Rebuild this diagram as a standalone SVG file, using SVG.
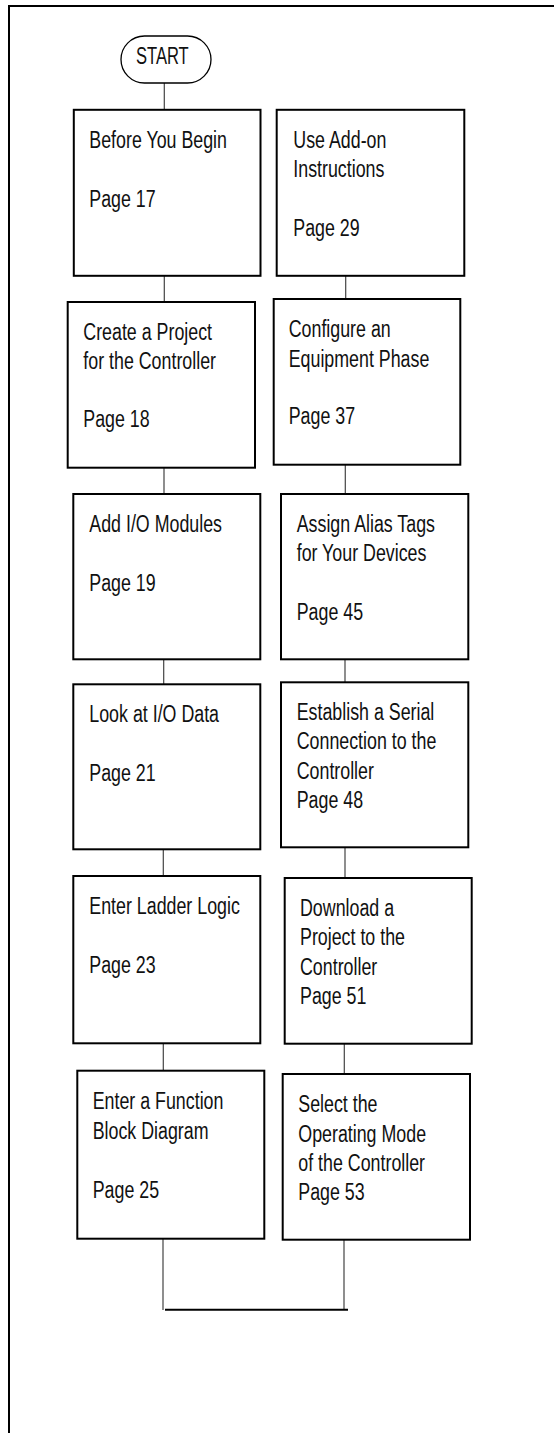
<svg xmlns="http://www.w3.org/2000/svg" width="554" height="1433" viewBox="0 0 554 1433">
  <style>
    .frame { fill: none; stroke: #000; stroke-width: 2; }
    .box { fill: #fff; stroke: #000; stroke-width: 2; }
    .pill { fill: #fff; stroke: #000; stroke-width: 1.3; }
    .link { fill: none; stroke: #444; stroke-width: 1.2; }
    .join { fill: none; stroke: #000; stroke-width: 2; }
    .lbl { font-family: "Liberation Sans", Arial, sans-serif; font-size: 23px; fill: #111; }
  </style>

  <!-- page frame (open on the right) -->
  <path class="frame" d="M9,1433 V6 H554"/>

  <!-- connectors -->
  <g id="connectors">
    <line class="link" x1="164.3" y1="83" x2="164.3" y2="110"/>
    <line class="link" x1="164.3" y1="276" x2="164.3" y2="302"/>
    <line class="link" x1="164" y1="468" x2="164" y2="494"/>
    <line class="link" x1="163.7" y1="659" x2="163.7" y2="684"/>
    <line class="link" x1="163.3" y1="849" x2="163.3" y2="876"/>
    <line class="link" x1="163.3" y1="1043" x2="163.3" y2="1071"/>
    <line class="link" x1="163" y1="1239" x2="163" y2="1310"/>

    <line class="link" x1="345.7" y1="276" x2="345.7" y2="299"/>
    <line class="link" x1="345.3" y1="465" x2="345.3" y2="494"/>
    <line class="link" x1="345" y1="659" x2="345" y2="682"/>
    <line class="link" x1="345" y1="847" x2="345" y2="878"/>
    <line class="link" x1="344.3" y1="1044" x2="344.3" y2="1074"/>
    <line class="link" x1="344" y1="1240" x2="344" y2="1310"/>

    <line class="join" x1="165" y1="1309.7" x2="348" y2="1309.7"/>
  </g>

  <!-- start terminal -->
  <g id="start">
    <rect class="pill" x="121" y="36" width="90" height="47" rx="23.5"/>
    <text class="lbl" transform="translate(136,63.5) scale(0.72,1)">START</text>
  </g>

  <!-- left column -->
  <g id="before-you-begin">
    <rect class="box" x="73.8" y="109.8" width="186.7" height="166"/>
    <text class="lbl" transform="translate(89.3,147.7) scale(0.775,1)">
      <tspan x="0" y="0">Before You Begin</tspan>
      <tspan x="0" y="59">Page 17</tspan>
    </text>
  </g>

  <g id="create-project">
    <rect class="box" x="67.7" y="302" width="187.3" height="165.7"/>
    <text class="lbl" transform="translate(83.3,340) scale(0.775,1)">
      <tspan x="0" y="0">Create a Project</tspan>
      <tspan x="0" y="29">for the Controller</tspan>
      <tspan x="0" y="87.3">Page 18</tspan>
    </text>
  </g>

  <g id="add-io-modules">
    <rect class="box" x="73.3" y="494" width="187" height="165.3"/>
    <text class="lbl" transform="translate(89.3,531.7) scale(0.775,1)">
      <tspan x="0" y="0">Add I/O Modules</tspan>
      <tspan x="0" y="59.3">Page 19</tspan>
    </text>
  </g>

  <g id="look-at-io-data">
    <rect class="box" x="73.3" y="684.3" width="187" height="165"/>
    <text class="lbl" transform="translate(89.3,722.3) scale(0.775,1)">
      <tspan x="0" y="0">Look at I/O Data</tspan>
      <tspan x="0" y="58.7">Page 21</tspan>
    </text>
  </g>

  <g id="enter-ladder-logic">
    <rect class="box" x="73.3" y="876" width="187" height="167.3"/>
    <text class="lbl" transform="translate(89.3,914) scale(0.775,1)">
      <tspan x="0" y="0">Enter Ladder Logic</tspan>
      <tspan x="0" y="59.3">Page 23</tspan>
    </text>
  </g>

  <g id="enter-fbd">
    <rect class="box" x="77.3" y="1070.7" width="187" height="168"/>
    <text class="lbl" transform="translate(92.7,1109.3) scale(0.775,1)">
      <tspan x="0" y="0">Enter a Function</tspan>
      <tspan x="0" y="29.7">Block Diagram</tspan>
      <tspan x="0" y="89">Page 25</tspan>
    </text>
  </g>

  <!-- right column -->
  <g id="add-on-instructions">
    <rect class="box" x="276.7" y="109.8" width="187.6" height="166"/>
    <text class="lbl" transform="translate(293.3,147.7) scale(0.775,1)">
      <tspan x="0" y="0">Use Add-on</tspan>
      <tspan x="0" y="29">Instructions</tspan>
      <tspan x="0" y="88">Page 29</tspan>
    </text>
  </g>

  <g id="equipment-phase">
    <rect class="box" x="273.7" y="299" width="186.6" height="165.7"/>
    <text class="lbl" transform="translate(288.7,337.3) scale(0.775,1)">
      <tspan x="0" y="0">Configure an</tspan>
      <tspan x="0" y="29.4">Equipment Phase</tspan>
      <tspan x="0" y="87">Page 37</tspan>
    </text>
  </g>

  <g id="alias-tags">
    <rect class="box" x="281" y="494" width="187.3" height="165.3"/>
    <text class="lbl" transform="translate(296.7,531.7) scale(0.775,1)">
      <tspan x="0" y="0">Assign Alias Tags</tspan>
      <tspan x="0" y="29">for Your Devices</tspan>
      <tspan x="0" y="88.3">Page 45</tspan>
    </text>
  </g>

  <g id="serial-connection">
    <rect class="box" x="281" y="682.3" width="187.3" height="165"/>
    <text class="lbl" transform="translate(296.7,720) scale(0.775,1)">
      <tspan x="0" y="0">Establish a Serial</tspan>
      <tspan x="0" y="29.3">Connection to the</tspan>
      <tspan x="0" y="59">Controller</tspan>
      <tspan x="0" y="87.7">Page 48</tspan>
    </text>
  </g>

  <g id="download-project">
    <rect class="box" x="284.7" y="878" width="187" height="165.7"/>
    <text class="lbl" transform="translate(300,916) scale(0.775,1)">
      <tspan x="0" y="0">Download a</tspan>
      <tspan x="0" y="29.3">Project to the</tspan>
      <tspan x="0" y="59">Controller</tspan>
      <tspan x="0" y="88">Page 51</tspan>
    </text>
  </g>

  <g id="operating-mode">
    <rect class="box" x="282.7" y="1074" width="187.3" height="165.7"/>
    <text class="lbl" transform="translate(298.3,1111.7) scale(0.775,1)">
      <tspan x="0" y="0">Select the</tspan>
      <tspan x="0" y="30">Operating Mode</tspan>
      <tspan x="0" y="59">of the Controller</tspan>
      <tspan x="0" y="88.3">Page 53</tspan>
    </text>
  </g>
</svg>
